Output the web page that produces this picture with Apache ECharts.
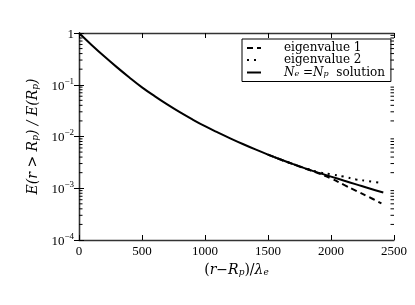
<!DOCTYPE html>
<html><head><meta charset="utf-8">
<script src="https://cdn.jsdelivr.net/npm/echarts@6/dist/echarts.min.js"></script>
<style>html,body{margin:0;padding:0;background:#fff}#c{width:415px;height:305px}</style>
</head><body><div id="c"></div>
<script>
// ---- data ----
const xSolid = [0,100,200,300,400,500,600,700,800,900,1000,1100,1200,1300,1400,1500,1600,1700,1800,1900,2000,2100,2200,2300,2415];
const ySolid = [1,0.589,0.355,0.219,0.138,0.0891,0.0603,0.0417,0.0295,0.0214,0.0158,0.0120,0.00923,0.00716,0.00562,0.00447,0.00359,0.00292,0.00240,0.00200,0.00168,0.00141,0.00119,0.00100,0.00083];
const xEig = [1500,1600,1700,1800,1900,2000,2100,2200,2300,2400];
const yEig1 = [0.00447,0.00359,0.00292,0.00238,0.00195,0.00155,0.00117,0.00089,0.00068,0.00051];
const yEig2 = [0.00447,0.00359,0.00292,0.00242,0.00206,0.00186,0.00168,0.00148,0.00137,0.00126];
const seriesNames = ['eigenvalue 1','eigenvalue 2','Ne=Np solution'];
const xTicks = [0,500,1000,1500,2000,2500];
const yDecades = [-4,-3,-2,-1,0];
const minorMult = [2,3,4,5,6,7,8,9];

const minorVals = [];
yDecades.slice(0,-1).forEach(k => minorMult.forEach(m => minorVals.push(m*Math.pow(10,k))));

const serif = 'Liberation Serif';
const dserif = 'DejaVu Serif';
const pair = (xs, ys) => xs.map((x,i)=>[x, ys[i]]);

const chart = echarts.init(document.getElementById('c'), null, {renderer:'canvas'});
const axisLine = {show:true, lineStyle:{color:'#333', width:1.3}};
const tick = {show:true, inside:true, length:5, lineStyle:{color:'#000', width:1}};
chart.setOption({
  animation:false,
  backgroundColor:'#fff',
  grid:{left:79, right:21, top:33, bottom:65, containLabel:false},
  legend:{
    data:seriesNames, orient:'vertical', left:242, top:39,
    itemGap:0, itemWidth:14, itemHeight:11,
    padding:[3,6,3,4], borderColor:'#000', borderWidth:1, borderRadius:0,
    backgroundColor:'#fff',
    itemStyle:{opacity:0},
    formatter: n => n === seriesNames[2] ? '{i|N}{s|e}{n| =}{i|N}{s|p}{n|  solution}' : '{n|' + n + '}',
    textStyle:{
      fontFamily:dserif, fontSize:12, color:'#000', padding:[0,0,0,18],
      rich:{
        n:{fontFamily:dserif, fontSize:12, lineHeight:11, color:'#000'},
        i:{fontFamily:dserif, fontSize:12, fontStyle:'italic', lineHeight:11, color:'#000'},
        s:{fontFamily:dserif, fontSize:8, fontStyle:'italic', lineHeight:11, verticalAlign:'bottom', padding:[4,0,0,0], color:'#000'}
      }
    }
  },
  xAxis:[{
    type:'value', min:xTicks[0], max:xTicks[xTicks.length-1], interval:500,
    axisLine, axisTick:tick, splitLine:{show:false},
    axisLabel:{fontFamily:serif, fontSize:13, color:'#000', margin:5, formatter: v => String(v)},
    name:'({i|r}−{i|R}{s|p})/{i|λ}{s|e}', nameLocation:'middle', nameGap:20,
    nameTextStyle:{
      fontFamily:dserif, fontSize:14, color:'#000',
      rich:{
        i:{fontFamily:dserif, fontSize:14, fontStyle:'italic', color:'#000'},
        s:{fontFamily:dserif, fontSize:9, fontStyle:'italic', color:'#000', verticalAlign:'bottom', padding:[6,0,0,0]}
      }
    }
  },{
    type:'value', position:'top', min:xTicks[0], max:xTicks[xTicks.length-1], interval:500,
    axisLine, axisTick:tick, axisLabel:{show:false}, splitLine:{show:false}
  }],
  yAxis:[{
    type:'log', logBase:10, min:1e-4, max:1,
    axisLine, axisTick:tick, splitLine:{show:false}, minorTick:{show:false},
    axisLabel:{
      margin:5, color:'#000',
      formatter: v => { const e = Math.round(Math.log10(v)); return e === 0 ? '{b|1}' : '{b|10}{sup|−' + (-e) + '}'; },
      rich:{
        b:{fontFamily:serif, fontSize:13, color:'#000', lineHeight:16, verticalAlign:'bottom'},
        sup:{fontFamily:serif, fontSize:9, color:'#000', lineHeight:16, verticalAlign:'top', padding:[0,0,6,0]}
      }
    },
    name:'{i|E}(r > {i|R}{s|p}) / {i|E}({i|R}{s|p})', nameLocation:'middle', nameGap:36, nameRotate:90,
    nameTextStyle:{
      fontFamily:dserif, fontSize:14, fontStyle:'italic', color:'#000',
      rich:{
        i:{fontFamily:dserif, fontSize:14, fontStyle:'italic', color:'#000'},
        s:{fontFamily:dserif, fontSize:9, fontStyle:'italic', color:'#000', verticalAlign:'bottom', padding:[6,0,0,0]}
      }
    }
  },{
    type:'log', logBase:10, min:1e-4, max:1, position:'right',
    axisLine, axisTick:tick, axisLabel:{show:false}, splitLine:{show:false}
  }],
  series:[
    {name:seriesNames[0], type:'line', data:pair(xEig,yEig1), symbol:'none', smooth:0.4,
     lineStyle:{color:'#000', width:2, type:[6,4]}, itemStyle:{color:'#000'}, z:3},
    {name:seriesNames[1], type:'line', data:pair(xEig,yEig2), symbol:'none', smooth:0.4,
     lineStyle:{color:'#000', width:2, type:[2,5]}, itemStyle:{color:'#000'}, z:3},
    {name:seriesNames[2], type:'line', data:pair(xSolid,ySolid), symbol:'none', smooth:0.4,
     lineStyle:{color:'#000', width:2}, itemStyle:{color:'#000'}, z:4},
    {type:'custom', silent:true, z:10, clip:false, data:minorVals.map(v=>[xTicks[0], v]),
     renderItem:(params, api) => {
       const v = api.value(1);
       const l = api.coord([xTicks[0], v]);
       const r = api.coord([xTicks[xTicks.length-1], v]);
       return {type:'group', children:[
         {type:'line', shape:{x1:l[0], y1:l[1], x2:l[0]+3.5, y2:l[1]}, style:{stroke:'#000', lineWidth:1}},
         {type:'line', shape:{x1:r[0]-3.5, y1:r[1], x2:r[0], y2:r[1]}, style:{stroke:'#000', lineWidth:1}}
       ]};
     }}
  ]
});
</script></body></html>
